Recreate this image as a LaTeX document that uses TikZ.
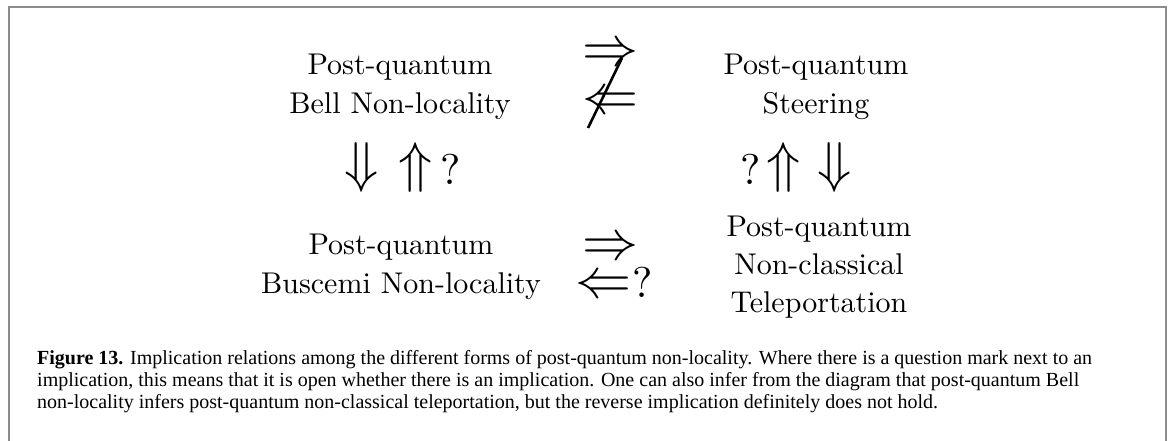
\documentclass[tikz,border=0pt]{standalone}
\usepackage{graphicx}
\usepackage{fontspec}
\newfontfamily\capfont{Liberation Serif}
\newcommand\dgtext[1]{\scalebox{3}{\fontsize{10}{12.67}\selectfont\begin{tabular}{@{}c@{}}#1\end{tabular}}}
\newcommand\dgharrow[1]{\scalebox{5.6}{\fontsize{10}{12}\selectfont\raisebox{-2.5pt}[2.3pt][2.3pt]{$#1$}}}
\newcommand\dgvarrow[1]{\scalebox{5.6}{\fontsize{10}{12}\selectfont\raisebox{-2.5pt}[4.4pt][4.4pt]{$#1$}}}
\newcommand\dgq{\scalebox{4.3}{\fontsize{10}{12}\selectfont ?}}
\begin{document}
\begin{tikzpicture}[x=1pt,y=-1pt,
  lbl/.style={inner sep=0pt},
  arr/.style={inner sep=0pt},
  qm/.style={inner sep=0pt,anchor=base west},
  capline/.style={inner sep=0pt,anchor=base west,font=\capfont\fontsize{20}{22}\selectfont},
  frame/.style={draw=black!45,line width=1.6pt}]
\useasboundingbox (0,0) rectangle (1168,441);
\draw[frame] (9,445) -- (9,7) -- (1166,7) -- (1166,445);
% text nodes
\node[lbl] (bell) at (400,86.4) {\dgtext{Post-quantum\\Bell Non-locality}};
\node[lbl] (steer) at (816,86.4) {\dgtext{Post-quantum\\Steering}};
\node[lbl] (busc) at (401,266.4) {\dgtext{Post-quantum\\Buscemi Non-locality}};
\node[lbl] (tele) at (819,266.9) {\dgtext{Post-quantum\\Non-classical\\Teleportation}};
% top arrows
\node[arr] (tr) at (610,51) {\dgharrow{\Rightarrow}};
\node[arr] (tl) at (610,99) {\dgharrow{\Leftarrow}};
\coordinate (s1) at (588,128);
\coordinate (s2) at (622,58);
\draw[line width=2.6pt] (s1) -- (s2);
% left vertical
\node[arr] (ld) at (362,167) {\dgvarrow{\Downarrow}};
\node[arr] (lu) at (416,167) {\dgvarrow{\Uparrow}};
\node[qm] (lq) at (440,185) {\dgq};
% right vertical
\node[qm] (rq) at (740,185) {\dgq};
\node[arr] (ru) at (784,167) {\dgvarrow{\Uparrow}};
\node[arr] (rd) at (835,167) {\dgvarrow{\Downarrow}};
% bottom arrows
\node[arr] (br) at (610,245) {\dgharrow{\Rightarrow}};
\node[arr] (bl) at (603,283) {\dgharrow{\Leftarrow}};
\node[qm] (bq) at (632,297) {\dgq};
% caption
\node[capline] (c1) at (37,364) {\textbf{Figure 13.} Implication relations among the different forms of post-quantum non-locality. Where there is a question mark next to an};
\node[capline] (c2) at (37,386) {implication, this means that it is open whether there is an implication. One can also infer from the diagram that post-quantum Bell};
\node[capline] (c3) at (37,408) {non-locality infers post-quantum non-classical teleportation, but the reverse implication definitely does not hold.};
\end{tikzpicture}
\end{document}
